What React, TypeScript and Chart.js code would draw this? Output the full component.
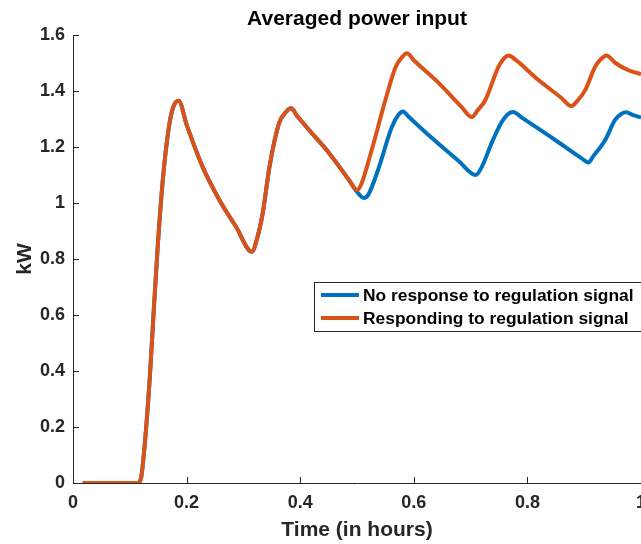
import React, { useEffect, useRef } from "react";
import { Chart, registerables } from "chart.js";

Chart.register(...registerables);

// Start-up transient, identical for both cases (hours, kW)
const sharedTime = [0.017, 0.114, 0.12, 0.126, 0.135, 0.142, 0.149, 0.158, 0.168, 0.176, 0.186, 0.2, 0.228, 0.258, 0.287, 0.315, 0.325, 0.334, 0.346, 0.363, 0.375, 0.384, 0.395, 0.416, 0.451, 0.486];
const sharedKW = [0, 0, 0.02, 0.13, 0.37, 0.61, 0.84, 1.08, 1.26, 1.34, 1.365, 1.28, 1.13, 1.01, 0.915, 0.826, 0.88, 0.964, 1.13, 1.286, 1.325, 1.338, 1.31, 1.26, 1.178, 1.082];

// No response to regulation signal
const baseTailTime = [0.5, 0.512, 0.52, 0.539, 0.561, 0.573, 0.581, 0.59, 0.632, 0.679, 0.709, 0.72, 0.737, 0.755, 0.766, 0.775, 0.79, 0.849, 0.895, 0.907, 0.917, 0.937, 0.954, 0.965, 0.974, 0.985, 1.0];
const baseTailKW = [1.04, 1.018, 1.03, 1.13, 1.27, 1.315, 1.327, 1.31, 1.232, 1.15, 1.1, 1.13, 1.214, 1.29, 1.318, 1.325, 1.305, 1.225, 1.16, 1.145, 1.17, 1.225, 1.296, 1.318, 1.324, 1.315, 1.305];

// Responding to regulation signal
const respTailTime = [0.5, 0.508, 0.526, 0.55, 0.568, 0.579, 0.588, 0.6, 0.644, 0.684, 0.702, 0.712, 0.726, 0.749, 0.758, 0.767, 0.78, 0.819, 0.86, 0.877, 0.888, 0.902, 0.919, 0.93, 0.939, 0.955, 0.977, 1.0];
const respTailKW = [1.046, 1.07, 1.19, 1.368, 1.486, 1.52, 1.535, 1.51, 1.428, 1.343, 1.307, 1.33, 1.368, 1.486, 1.515, 1.527, 1.51, 1.44, 1.375, 1.346, 1.365, 1.404, 1.486, 1.515, 1.527, 1.5, 1.475, 1.46];

const xTicks = [0, 0.2, 0.4, 0.6, 0.8, 1];
const yTicks = [0, 0.2, 0.4, 0.6, 0.8, 1, 1.2, 1.4, 1.6];

const seriesNames = ["No response to regulation signal", "Responding to regulation signal"];
const seriesColors = ["#0072BD", "#D95319"];

const TITLE = "Averaged power input";
const X_TITLE = "Time (in hours)";
const Y_TITLE = "kW";

const AXIS_COLOR = "#262626";
const FONT = "'Liberation Sans', Arial, sans-serif";

const toPoints = (ts: number[], vs: number[]) => ts.map((t, i) => ({ x: t, y: vs[i] }));
const fmt = (v: number) => (Number.isInteger(v) ? String(v) : v.toFixed(1));

const decorations = {
  id: "decorations",
  beforeDatasetsDraw(chart: any) {
    const { ctx, chartArea, scales } = chart;
    ctx.save();
    ctx.strokeStyle = AXIS_COLOR;
    ctx.lineWidth = 1;
    // inward tick marks
    yTicks.forEach((v) => {
      const y = Math.round(scales.y.getPixelForValue(v)) + 0.5;
      ctx.beginPath();
      ctx.moveTo(chartArea.left, y);
      ctx.lineTo(chartArea.left + 6, y);
      ctx.stroke();
    });
    xTicks.forEach((v) => {
      const x = Math.round(scales.x.getPixelForValue(v)) + 0.5;
      ctx.beginPath();
      ctx.moveTo(x, chartArea.bottom);
      ctx.lineTo(x, chartArea.bottom - 6);
      ctx.stroke();
    });
    ctx.restore();
  },
  afterDraw(chart: any) {
    const { ctx, chartArea } = chart;
    const cx = (chartArea.left + chartArea.right) / 2;
    const cy = (chartArea.top + chartArea.bottom) / 2;
    ctx.save();
    ctx.fillStyle = "#000";
    ctx.textAlign = "center";
    ctx.textBaseline = "alphabetic";
    ctx.font = `bold 21px ${FONT}`;
    ctx.fillText(TITLE, cx, 25);

    ctx.fillStyle = AXIS_COLOR;
    ctx.fillText(X_TITLE, cx, 536);

    ctx.save();
    ctx.translate(31, cy);
    ctx.rotate(-Math.PI / 2);
    ctx.fillText(Y_TITLE, 0, 0);
    ctx.restore();

    // legend box
    const lx = 314, ly = 282, lh = 49;
    ctx.fillStyle = "#fff";
    ctx.fillRect(lx, ly, 400, lh);
    ctx.strokeStyle = AXIS_COLOR;
    ctx.lineWidth = 1;
    ctx.strokeRect(lx + 0.5, ly + 0.5, 400, lh);
    ctx.font = `bold 17.4px ${FONT}`;
    ctx.textAlign = "left";
    ctx.textBaseline = "middle";
    const rows = [295, 318];
    chart.data.datasets.forEach((ds: any, i: number) => {
      const y = rows[i];
      ctx.strokeStyle = ds.borderColor;
      ctx.lineWidth = 4;
      ctx.beginPath();
      ctx.moveTo(321, y);
      ctx.lineTo(359, y);
      ctx.stroke();
      ctx.fillStyle = "#000";
      ctx.fillText(ds.label, 363, y + 1);
    });
    ctx.restore();
  },
};

export default function App() {
  const canvasRef = useRef<HTMLCanvasElement>(null);

  useEffect(() => {
    document.body.style.margin = "0";
    const canvas = canvasRef.current;
    if (!canvas) return;
    const chart = new Chart(canvas, {
      type: "line",
      data: {
        datasets: [
          {
            label: seriesNames[0],
            data: toPoints(sharedTime.concat(baseTailTime), sharedKW.concat(baseTailKW)),
            borderColor: seriesColors[0],
            borderWidth: 4,
            pointRadius: 0,
            cubicInterpolationMode: "monotone",
            fill: false,
            order: 1,
          },
          {
            label: seriesNames[1],
            data: toPoints(sharedTime.concat(respTailTime), sharedKW.concat(respTailKW)),
            borderColor: seriesColors[1],
            borderWidth: 4,
            pointRadius: 0,
            cubicInterpolationMode: "monotone",
            fill: false,
            order: 0,
          },
        ],
      },
      options: {
        responsive: false,
        animation: false,
        layout: { padding: { top: 35, left: 0, right: 0, bottom: 0 } },
        plugins: {
          legend: { display: false },
          title: { display: false },
          tooltip: { enabled: false },
        },
        scales: {
          x: {
            type: "linear",
            min: 0,
            max: 1,
            afterBuildTicks: (s: any) => {
              s.ticks = xTicks.map((v) => ({ value: v }));
            },
            afterFit: (s: any) => {
              s.height = 61;
              s.paddingLeft = 0;
              s.paddingRight = 0;
            },
            grid: { display: false, drawTicks: false },
            border: { display: true, color: AXIS_COLOR, width: 1 },
            ticks: {
              color: AXIS_COLOR,
              font: { family: FONT, size: 18, weight: "bold" },
              padding: 9,
              maxRotation: 0,
              autoSkip: false,
              callback: (v: any) => fmt(Number(v)),
            },
          },
          y: {
            type: "linear",
            min: 0,
            max: 1.6,
            afterBuildTicks: (s: any) => {
              s.ticks = yTicks.map((v) => ({ value: v }));
            },
            afterFit: (s: any) => {
              s.width = 73;
              s.paddingTop = 0;
              s.paddingBottom = 0;
            },
            grid: { display: false, drawTicks: false },
            border: { display: true, color: AXIS_COLOR, width: 1 },
            ticks: {
              color: AXIS_COLOR,
              font: { family: FONT, size: 18, weight: "bold" },
              padding: 8,
              autoSkip: false,
              callback: (v: any) => fmt(Number(v)),
            },
          },
        },
      },
      plugins: [decorations],
    });
    return () => chart.destroy();
  }, []);

  return (
    <div style={{ width: 641, height: 544 }}>
      <canvas ref={canvasRef} width={641} height={544} style={{ display: "block" }} />
    </div>
  );
}
